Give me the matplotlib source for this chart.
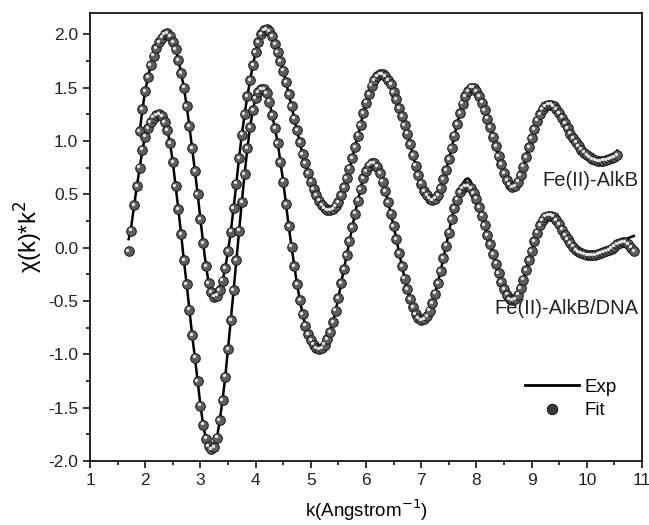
"""
EXAFS chi(k)*k^2 for Fe(II)-AlkB and Fe(II)-AlkB/DNA, experiment (line)
and fit (shaded spheres).
"""
import numpy as np
import matplotlib
matplotlib.use('Agg')
import matplotlib.pyplot as plt
from matplotlib.lines import Line2D
from matplotlib.ticker import MultipleLocator, FormatStrFormatter
from matplotlib.transforms import offset_copy

plt.rcParams['font.family'] = ['Liberation Sans', 'DejaVu Sans']
plt.rcParams['axes.unicode_minus'] = False

###############################################################################
# DATA (k step 0.05)
###############################################################################
top_k0 = 1.90
fit_top = [
    1.09, 1.30, 1.47, 1.60, 1.71, 1.80, 1.87, 1.93, 1.97, 2.00,
    2.01, 1.98, 1.93, 1.86, 1.76, 1.64, 1.50, 1.33, 1.14, 0.93,
    0.72, 0.50, 0.27, 0.04, -0.17, -0.33, -0.42, -0.46, -0.45, -0.40,
    -0.31, -0.19, -0.03, 0.15, 0.37, 0.60, 0.84, 1.06, 1.25, 1.42,
    1.57, 1.71, 1.83, 1.93, 2.00, 2.04, 2.05, 2.03, 1.98, 1.91,
    1.83, 1.75, 1.66, 1.55, 1.44, 1.33, 1.21, 1.10, 0.99, 0.88,
    0.79, 0.70, 0.62, 0.55, 0.49, 0.44, 0.40, 0.37, 0.355, 0.35,
    0.36, 0.39, 0.43, 0.49, 0.57, 0.65, 0.74, 0.84, 0.945, 1.05,
    1.15, 1.26, 1.36, 1.44, 1.52, 1.57, 1.61, 1.63, 1.63, 1.61,
    1.57, 1.53, 1.46, 1.39, 1.31, 1.23, 1.15, 1.07, 0.97, 0.87,
    0.77, 0.68, 0.60, 0.53, 0.49, 0.46, 0.445, 0.46, 0.49, 0.56,
    0.64, 0.73, 0.83, 0.93, 1.05, 1.16, 1.26, 1.35, 1.42, 1.47,
    1.50, 1.50, 1.47, 1.42, 1.36, 1.29, 1.21, 1.13, 1.04, 0.95,
    0.86, 0.78, 0.70, 0.63, 0.59, 0.57, 0.58, 0.62, 0.68, 0.76,
    0.85, 0.94, 1.03, 1.11, 1.19, 1.25, 1.30, 1.33, 1.34, 1.34,
    1.33, 1.30, 1.26, 1.22, 1.17, 1.12, 1.07, 1.03, 0.99, 0.95,
    0.92, 0.89, 0.87, 0.85, 0.83, 0.82, 0.81, 0.81, 0.815, 0.82,
    0.83, 0.84, 0.85, 0.87,
]

bot_k0 = 1.70
fit_bot = [
    -0.03, 0.16, 0.40, 0.58, 0.75, 0.92, 1.04, 1.12, 1.18, 1.22,
    1.24, 1.25, 1.23, 1.18, 1.10, 0.98, 0.80, 0.58, 0.36, 0.13,
    -0.12, -0.34, -0.58, -0.82, -1.03, -1.25, -1.48, -1.66, -1.79, -1.86,
    -1.89, -1.87, -1.78, -1.62, -1.43, -1.21, -0.95, -0.68, -0.40, -0.12,
    0.16, 0.43, 0.69, 0.93, 1.13, 1.29, 1.40, 1.46, 1.49, 1.49,
    1.45, 1.37, 1.24, 1.12, 0.98, 0.80, 0.62, 0.41, 0.20, 0.01,
    -0.17, -0.34, -0.49, -0.62, -0.73, -0.81, -0.87, -0.91, -0.94, -0.95,
    -0.94, -0.91, -0.86, -0.79, -0.70, -0.59, -0.47, -0.33, -0.20, -0.07,
    0.06, 0.19, 0.32, 0.44, 0.55, 0.65, 0.72, 0.77, 0.79, 0.79,
    0.76, 0.70, 0.62, 0.53, 0.43, 0.32, 0.20, 0.08, -0.05, -0.17,
    -0.29, -0.39, -0.48, -0.56, -0.62, -0.66, -0.68, -0.67, -0.64, -0.59,
    -0.52, -0.43, -0.33, -0.22, -0.10, 0.02, 0.14, 0.27, 0.37, 0.45,
    0.52, 0.56, 0.58, 0.58, 0.56, 0.51, 0.46, 0.38, 0.30, 0.21,
    0.12, 0.03, -0.06, -0.15, -0.24, -0.32, -0.39, -0.44, -0.48, -0.49,
    -0.48, -0.44, -0.38, -0.30, -0.21, -0.12, -0.03, 0.06, 0.14, 0.21,
    0.26, 0.29, 0.30, 0.30, 0.29, 0.26, 0.22, 0.17, 0.12, 0.08,
    0.04, 0.01, -0.02, -0.04, -0.05, -0.06, -0.07, -0.07, -0.07, -0.07,
    -0.06, -0.05, -0.04, -0.03, -0.02, -0.01, 0.01, 0.03, 0.04, 0.05,
    0.05, 0.03, 0.00, -0.03,
]

# places where the experimental line leaves the fit spheres
exp_top_k = [3.20, 3.25, 3.30, 3.35, 10.55]
exp_top_v = [-0.38, -0.40, -0.39, -0.36, 0.91]
exp_bot_k = [1.70, 1.75, 7.75, 7.80, 7.85, 7.90, 10.70, 10.75, 10.80, 10.85]
exp_bot_v = [0.08, 0.21, 0.60, 0.64, 0.65, 0.62, 0.07, 0.09, 0.10, 0.11]

labels = ['Fe(II)-AlkB', 'Fe(II)-AlkB/DNA']
label_pos = [(10.93, 0.63), (10.93, -0.57)]


def build(k0, fit, ek, ev):
    k = np.round(k0 + 0.05 * np.arange(len(fit)), 2)
    fit = np.array(fit)
    exp = fit.copy()
    for kk, vv in zip(ek, ev):
        exp[np.argmin(np.abs(k - kk))] = vv
    return k, exp, fit


###############################################################################
# PLOT
###############################################################################
fig = plt.figure(figsize=(6.49, 5.25), dpi=100)
ax = fig.add_axes([0.1387, 0.1219, 0.8506, 0.8533])

curves = [build(top_k0, fit_top, exp_top_k, exp_top_v),
          build(bot_k0, fit_bot, exp_bot_k, exp_bot_v)]

shine = offset_copy(ax.transData, fig=fig, x=-0.9, y=0.9, units='points')
for k, exp, fit in curves:
    ax.plot(k, exp, color='black', lw=1.8, zorder=2)
    ax.plot(k, fit, ls='none', marker='o', ms=6.9, mfc='#5e5e5e',
            mec='#141414', mew=0.7, zorder=3)
    ax.plot(k, fit, ls='none', marker='o', ms=2.4, mfc='#e6e6e6',
            mec='none', transform=shine, zorder=4)

for txt, (x, y) in zip(labels, label_pos):
    ax.text(x, y, txt, ha='right', va='center', fontsize=14.5, color='#222222')

ax.set_xlim(1, 11)
ax.set_ylim(-2.0, 2.2)
ax.set_xticks(np.arange(1, 12, 1))
ax.set_yticks(np.arange(-2.0, 2.01, 0.5))
ax.xaxis.set_minor_locator(MultipleLocator(0.5))
ax.yaxis.set_minor_locator(MultipleLocator(0.25))
ax.yaxis.set_major_formatter(FormatStrFormatter('%.1f'))
ax.tick_params(which='both', direction='out', top=False, right=False,
               labelsize=12.5, width=1.1, labelcolor='#222222')
ax.tick_params(which='major', length=5)
ax.tick_params(which='minor', length=3)
for s in ax.spines.values():
    s.set_linewidth(1.2)

ax.set_xlabel('k(Angstrom$^{-1}$)', fontsize=13.5, labelpad=7)
ax.set_ylabel('χ(k)*k$^2$', fontsize=17, labelpad=2)

h_exp = Line2D([], [], color='black', lw=2.0)
h_fit = Line2D([], [], ls='none', marker='o', ms=7.5, mfc='#3a3a3a',
               mec='#111111', mew=0.7)
ax.legend([h_exp, h_fit], ['Exp', 'Fit'], loc='lower right',
          bbox_to_anchor=(0.985, 0.055), frameon=False, fontsize=13.5,
          handlelength=2.9, handletextpad=0.3, labelspacing=0.35)

fig.savefig('out.png', dpi=100)
